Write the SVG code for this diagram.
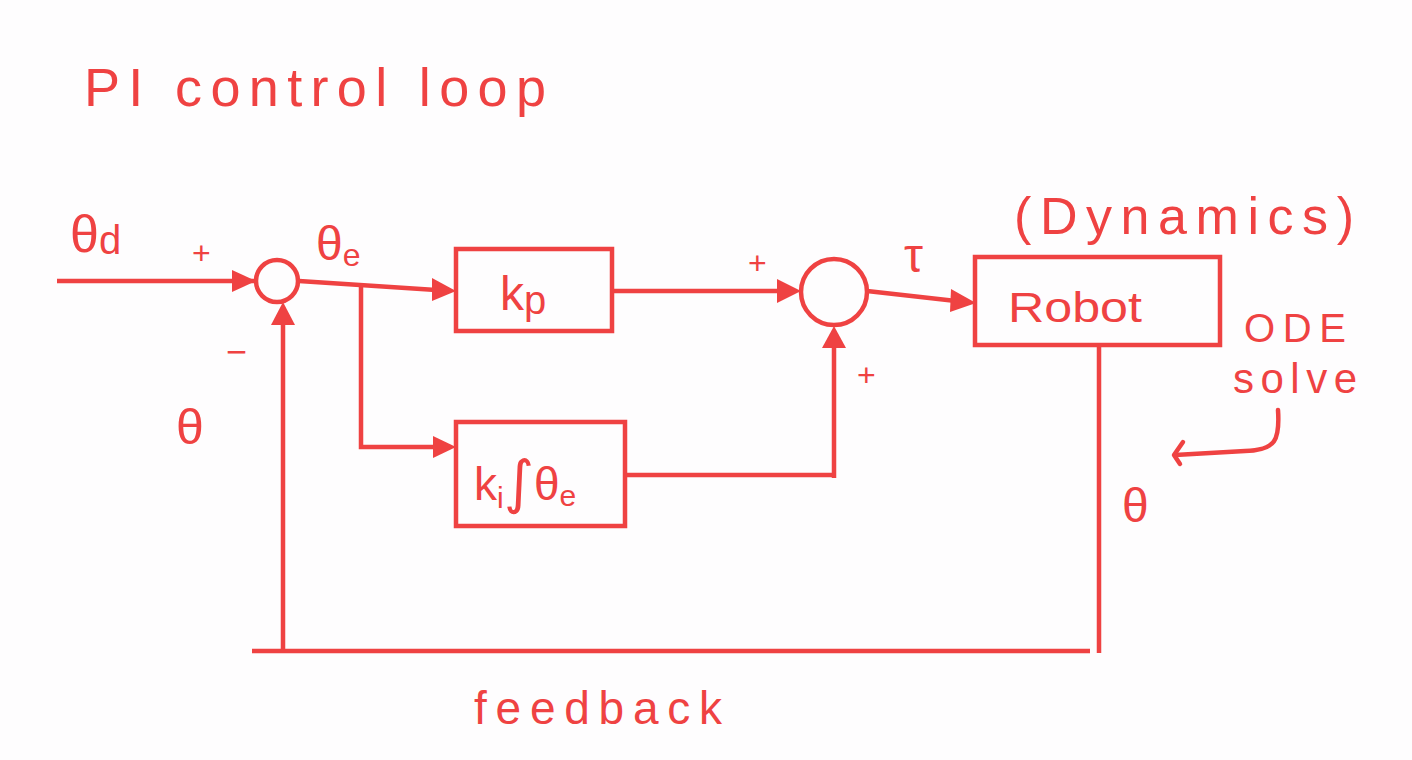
<svg xmlns="http://www.w3.org/2000/svg" width="1412" height="760" viewBox="0 0 1412 760">
<defs>
<style>
.ln{stroke:#EF4242;stroke-width:4.5;fill:none}
.bx{stroke:#EF4242;stroke-width:4.5;fill:none}
.t{fill:#EF4242;font-family:"Liberation Sans","DejaVu Sans",sans-serif}
</style>
</defs>
<rect width="1412" height="760" fill="#FEFDFE"/>
<text class="t" x="84" y="106" font-size="54" textLength="462" lengthAdjust="spacing">PI control loop</text>

<g id="conn">
<line class="ln" x1="57" y1="281" x2="254" y2="281"/>
<path d="M232,270 L256,281 L232,292 z" fill="#EF4242"/>
<line class="ln" x1="299" y1="281" x2="436" y2="290"/>
<path d="M432,278 L456,291 L432,301 z" fill="#EF4242"/>
<polyline class="ln" points="361,287 361,447 436,447"/>
<path d="M433,436 L456,447 L433,458 z" fill="#EF4242"/>
<line class="ln" x1="612" y1="291" x2="782" y2="291"/>
<path d="M777,279 L801,291 L777,303 z" fill="#EF4242"/>
<line class="ln" x1="625" y1="475" x2="832" y2="475"/>
<line class="ln" x1="834" y1="478" x2="834" y2="345"/>
<path d="M822,348 L834,326 L846,348 z" fill="#EF4242"/>
<line class="ln" x1="867" y1="291" x2="956" y2="301"/>
<path d="M951,289 L976,303 L950,312 z" fill="#EF4242"/>
<line class="ln" x1="1099" y1="346" x2="1099" y2="653"/>
<line class="ln" x1="252" y1="651" x2="1090" y2="651"/>
<line class="ln" x1="283" y1="651" x2="283" y2="322"/>
<path d="M271,325 L283,302 L295,325 z" fill="#EF4242"/>
<path class="ln" d="M1278,410 C1280,440 1276,450 1245,451 L1175,455" stroke-linecap="round"/>
<polyline class="ln" points="1183,442 1174,455 1180,464" stroke-linecap="round" stroke-linejoin="round"/>
</g>

<g id="sum1"><circle class="bx" cx="277" cy="281" r="21"/></g>
<g id="kp"><rect class="bx" x="456" y="249" width="156" height="82"/>
<text class="t" x="500" y="310" font-size="48">k<tspan font-size="40" dy="4">p</tspan></text></g>
<g id="ki"><rect class="bx" x="456" y="422" width="169" height="104"/>
<text class="t" x="474" y="500" font-size="46">k<tspan font-size="30" dy="8">i</tspan><tspan dy="-6" font-size="58" font-family="DejaVu Sans">∫</tspan><tspan dy="-2">θ</tspan><tspan font-size="30" dy="6">e</tspan></text></g>
<g id="sum2"><circle class="bx" cx="834" cy="292" r="33"/></g>
<g id="robot"><rect class="bx" x="975" y="257" width="245" height="88"/>
<text class="t" x="1008" y="322" font-size="42" textLength="134" lengthAdjust="spacingAndGlyphs">Robot</text></g>

<g id="labels">
<text class="t" x="70" y="252" font-size="52">θ<tspan font-size="40" dy="2">d</tspan></text>
<text class="t" x="192" y="264" font-size="32">+</text>
<text class="t" x="226" y="364" font-size="36">−</text>
<text class="t" x="176" y="444" font-size="50">θ</text>
<text class="t" x="316" y="260" font-size="48">θ<tspan font-size="32" dy="6">e</tspan></text>
<text class="t" x="748" y="274" font-size="32">+</text>
<text class="t" x="857" y="386" font-size="32">+</text>
<text class="t" x="904" y="272" font-size="48">τ</text>
<text class="t" x="1014" y="234" font-size="52" textLength="340" lengthAdjust="spacing">(Dynamics)</text>
<text class="t" x="1244" y="342" font-size="40" textLength="102" lengthAdjust="spacing">ODE</text>
<text class="t" x="1233" y="393" font-size="42" textLength="124" lengthAdjust="spacing">solve</text>
<text class="t" x="1122" y="522" font-size="48">θ</text>
<text class="t" x="474" y="724" font-size="46" textLength="248" lengthAdjust="spacing">feedback</text>
</g>
</svg>
